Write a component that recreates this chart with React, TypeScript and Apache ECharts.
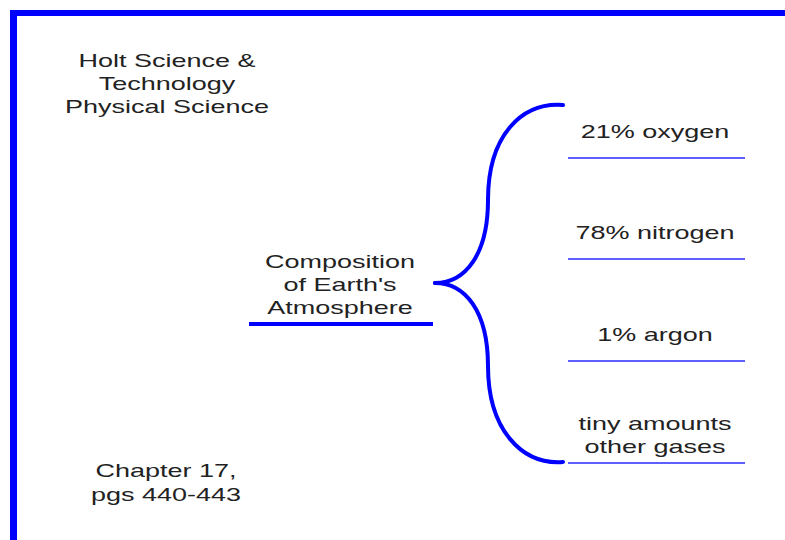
import React, { useEffect, useRef } from "react";
import * as echarts from "echarts";

const headerLines = ["Holt Science &", "Technology", "Physical Science"];
const centerLines = ["Composition", "of Earth's", "Atmosphere"];
const footerLines = ["Chapter 17,", "pgs 440-443"];
const branchLabels = [["21% oxygen"], ["78% nitrogen"], ["1% argon"], ["tiny amounts", "other gases"]];

const BLUE = "#0000ff";
const TEXT = "#222222";
const FONT = "Liberation Sans, Arial, sans-serif";

function textEl(str: string, cx: number, cy: number) {
  return {
    type: "text",
    x: cx,
    y: cy,
    scaleX: 1.5,
    style: {
      x: 0,
      y: 0,
      text: str,
      fill: TEXT,
      font: `18px ${FONT}`,
      textAlign: "center",
      textVerticalAlign: "middle",
    },
  };
}

export default function App() {
  const ref = useRef<HTMLDivElement>(null);
  useEffect(() => {
    document.body.style.margin = "0";
    const chart = echarts.init(ref.current!, null, { renderer: "svg" });
    const els: any[] = [];
    // border
    els.push({ type: "rect", shape: { x: 10, y: 10, width: 775, height: 6 }, style: { fill: BLUE } });
    els.push({ type: "rect", shape: { x: 10, y: 10, width: 7, height: 530 }, style: { fill: BLUE } });
    // header
    headerLines.forEach((t, i) => els.push(textEl(t, 167, 61 + i * 23)));
    centerLines.forEach((t, i) => els.push(textEl(t, 340, 262 + i * 23)));
    footerLines.forEach((t, i) => els.push(textEl(t, 166, 471 + i * 24)));
    // center underline
    els.push({ type: "rect", shape: { x: 249, y: 322, width: 184, height: 4 }, style: { fill: BLUE } });
    // brace
    const braceStyle = { stroke: BLUE, lineWidth: 4, fill: "none", lineCap: "round" };
    const curves = [
      [563, 105, 488, 200, 522, 102, 488, 135],
      [488, 200, 435, 283, 488, 255, 465, 283],
      [435, 283, 488, 366, 465, 283, 488, 311],
      [488, 366, 563, 462, 488, 430, 522, 465],
    ];
    curves.forEach((c) =>
      els.push({
        type: "bezierCurve",
        shape: { x1: c[0], y1: c[1], x2: c[2], y2: c[3], cpx1: c[4], cpy1: c[5], cpx2: c[6], cpy2: c[7] },
        style: braceStyle,
      })
    );
    // branches
    const lineYs = [158, 259, 361, 463];
    branchLabels.forEach((lines, i) => {
      const ly = lineYs[i];
      els.push({ type: "line", shape: { x1: 568, y1: ly, x2: 745, y2: ly }, style: { stroke: "#2a2aff", lineWidth: 1.5 } });
      const n = lines.length;
      lines.forEach((t, j) => {
        const cy = n === 1 ? ly - 26 : ly - 16 - (n - 1 - j) * 23;
        els.push(textEl(t, 655, cy));
      });
    });
    chart.setOption({ animation: false, backgroundColor: "#ffffff", graphic: { elements: els } });
    return () => chart.dispose();
  }, []);
  return <div ref={ref} style={{ width: 785, height: 540 }} />;
}
